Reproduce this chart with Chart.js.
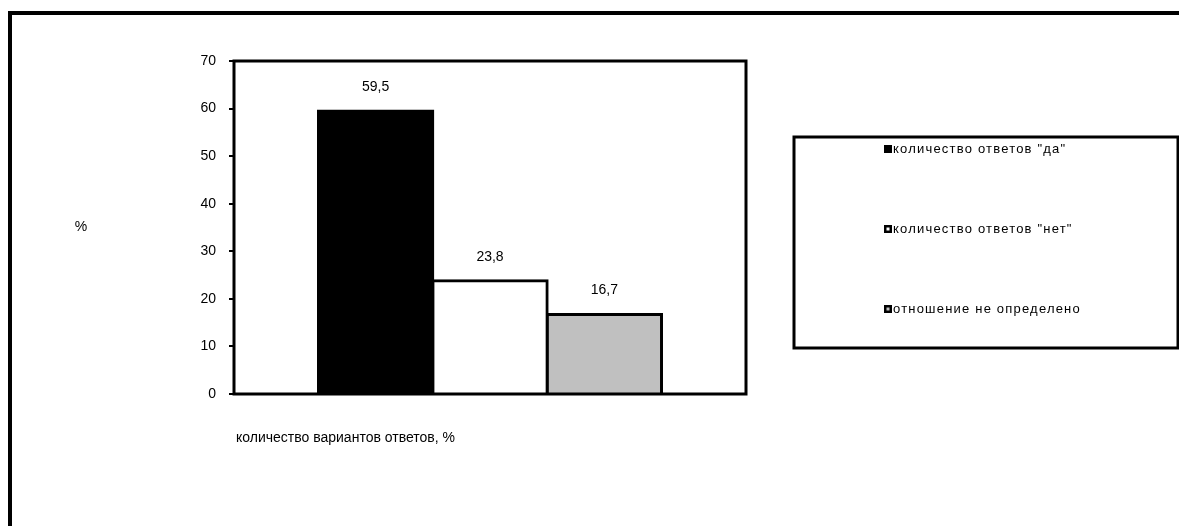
<!DOCTYPE html>
<html>
<head>
<meta charset="utf-8">
<script src="https://cdn.jsdelivr.net/npm/chart.js@4"></script>
<style>
  html, body { margin: 0; padding: 0; background: #fff; }
  #answersChart { display: block; }
</style>
</head>
<body>
<canvas id="answersChart" width="1179" height="526"></canvas>
<script>
const categories = [''];
const seriesLabels = ['количество ответов "да"', 'количество ответов "нет"', 'отношение не определено'];
const seriesValues = [59.5, 23.8, 16.7];
const seriesColors = ['#000000', '#ffffff', '#c0c0c0'];
const valueLabels = ['59,5', '23,8', '16,7'];
const yAxisTitle = '%';
const xAxisTitle = 'количество вариантов ответов, %';

const FONT = '"Liberation Sans", Arial, sans-serif';

// frame, plot border, value labels, axis titles and the boxed legend
const decorations = {
    id: 'decorations',
    afterDraw(chart) {
        const c = chart.ctx;
        const a = chart.chartArea;
        c.save();
        c.strokeStyle = '#000';

        c.lineWidth = 4;
        c.strokeRect(10, 13, 1400, 700);

        c.lineWidth = 3;
        c.strokeRect(a.left, a.top, a.right - a.left, a.bottom - a.top);

        c.fillStyle = '#000';
        c.font = '14px ' + FONT;
        c.textAlign = 'center';
        c.textBaseline = 'middle';
        chart.data.datasets.forEach((ds, i) => {
            const bar = chart.getDatasetMeta(i).data[0];
            c.fillText(valueLabels[i], bar.x, bar.y - 24);
        });

        c.fillText(yAxisTitle, 81, 227);
        c.textAlign = 'left';
        c.fillText(xAxisTitle, 236, 438);

        // legend box
        c.lineWidth = 3;
        c.strokeRect(794, 137, 384, 211);
        c.font = '13px ' + FONT;
        c.letterSpacing = '1.2px';
        chart.data.datasets.forEach((ds, i) => {
            const y = 149 + i * 80;
            c.fillStyle = '#000';
            c.fillRect(884, y - 4, 8, 8);
            c.fillStyle = ds.backgroundColor;
            c.fillRect(886.5, y - 1.5, 3, 3);
            c.fillStyle = '#000';
            c.fillText(ds.label, 893, y);
        });
        c.restore();
    }
};

new Chart(document.getElementById('answersChart'), {
    type: 'bar',
    data: {
        labels: categories,
        datasets: seriesLabels.map((label, i) => ({
            label: label,
            data: [seriesValues[i]],
            backgroundColor: seriesColors[i],
            borderColor: '#000',
            borderWidth: 3,
            borderSkipped: 'bottom',
            inflateAmount: 1.5
        }))
    },
    options: {
        responsive: false,
        animation: false,
        devicePixelRatio: 1,
        layout: { padding: { left: 0, right: 433, top: 61, bottom: 132 } },
        datasets: { bar: { categoryPercentage: 0.67, barPercentage: 1 } },
        plugins: { legend: { display: false }, tooltip: { enabled: false } },
        scales: {
            x: { display: false },
            y: {
                min: 0,
                max: 70,
                afterFit(scale) { scale.width = 234; },
                ticks: { stepSize: 10, color: '#000', padding: 13, font: { family: FONT, size: 14 } },
                grid: { drawOnChartArea: false, drawTicks: true, tickLength: 5, color: '#000', lineWidth: 2 },
                border: { display: false }
            }
        }
    },
    plugins: [decorations]
});
</script>
</body>
</html>
